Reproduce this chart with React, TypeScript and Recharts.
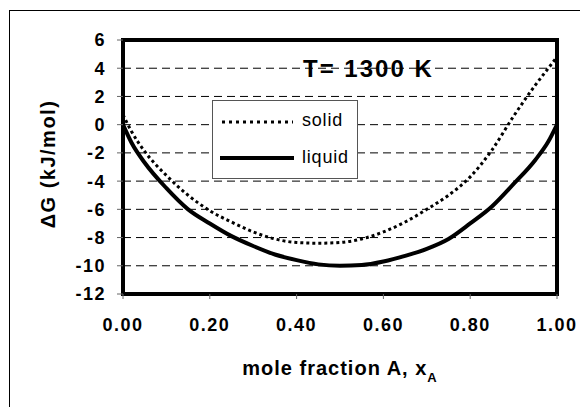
import React from 'react';
import { LineChart, Line, XAxis, YAxis, CartesianGrid, ReferenceArea } from 'recharts';

const moleFraction = [0, 0.02, 0.05, 0.1, 0.15, 0.2, 0.25, 0.3, 0.35, 0.4, 0.45, 0.5, 0.55, 0.6, 0.65, 0.7, 0.75, 0.8, 0.85, 0.9, 0.95, 0.98, 1.0];
const solidDG = [0.7, -0.5, -1.9, -3.6, -5.0, -6.1, -6.9, -7.6, -8.1, -8.35, -8.4, -8.35, -8.1, -7.6, -6.9, -6.0, -5.0, -3.7, -1.8, 0.6, 2.8, 4.0, 4.8];
const liquidDG = [0, -1.3, -2.7, -4.5, -6.0, -7.0, -7.9, -8.6, -9.2, -9.6, -9.9, -10.0, -9.95, -9.7, -9.3, -8.8, -8.1, -7.0, -5.8, -4.2, -2.5, -1.2, 0];
const xTicks = [0, 0.2, 0.4, 0.6, 0.8, 1.0];
const yTicks = [-12, -10, -8, -6, -4, -2, 0, 2, 4, 6];
const seriesNames = ['solid', 'liquid'];
const titleText = 'T= 1300 K';
const xLabelText = 'mole fraction A, x';
const xLabelSub = 'A';
const yLabelText = 'ΔG (kJ/mol)';

const data = moleFraction.map((x, i) => ({ x, solid: solidDG[i], liquid: liquidDG[i] }));

const FONT = '"Liberation Sans", Arial, sans-serif';

const XTick = (props: any) => {
  const { x, y, payload } = props;
  return (
    <text x={x} y={y} dy="0.72em" textAnchor="middle" fontFamily={FONT} fontWeight="bold" fontSize={18} letterSpacing={1.5} fill="#000">
      {Number(payload.value).toFixed(2)}
    </text>
  );
};

const YTick = (props: any) => {
  const { x, y, payload } = props;
  return (
    <text x={x} y={y} dy="0.36em" textAnchor="end" fontFamily={FONT} fontWeight="bold" fontSize={18} letterSpacing={1.5} fill="#000">
      {String(payload.value)}
    </text>
  );
};

export default function App() {
  return (
    <div style={{ position: 'absolute', left: 0, top: 0, width: 580, height: 407, overflow: 'hidden', background: '#fff' }}>
      <div style={{ position: 'absolute', left: 9, top: 10, width: 620, height: 500, border: '1px solid #000' }} />
      <div style={{ position: 'absolute', left: 0, top: 0 }}>
        <LineChart width={580} height={407} data={data} margin={{ top: 40, right: 23, bottom: 83, left: 63 }}>
          <CartesianGrid horizontal={true} vertical={false} stroke="#000" strokeDasharray="8 5" />
          <XAxis
            dataKey="x"
            type="number"
            domain={[0, 1]}
            ticks={xTicks}
            height={30}
            axisLine={false}
            tickLine={{ stroke: '#666' }}
            tickSize={5}
            tickMargin={19}
            tick={<XTick />}
            interval={0}
          />
          <YAxis
            type="number"
            domain={[-12, 6]}
            ticks={yTicks}
            width={60}
            axisLine={false}
            tickLine={{ stroke: '#666' }}
            tickSize={6}
            tickMargin={11}
            tick={<YTick />}
            interval={0}
          />
          <Line dataKey="solid" name={seriesNames[0]} stroke="#000" strokeWidth={3} strokeDasharray="3 3" dot={false} isAnimationActive={false} type="monotone" />
          <Line dataKey="liquid" name={seriesNames[1]} stroke="#000" strokeWidth={4} dot={false} isAnimationActive={false} type="monotone" />
          <ReferenceArea x1={0} x2={1} y1={-12} y2={6} fill="none" fillOpacity={0} stroke="#000" strokeWidth={4} ifOverflow="visible" />
        </LineChart>
      </div>
      <svg width={580} height={407} style={{ position: 'absolute', left: 0, top: 0, pointerEvents: 'none' }}>
        <text x={303} y={77} fontFamily={FONT} fontWeight="bold" fontSize={24} letterSpacing={2} fill="#000">{titleText}</text>
        <rect x={212.5} y={100.5} width={145} height={78} fill="#fff" stroke="#555" strokeWidth={1} />
        <line x1={222} y1={122} x2={293} y2={122} stroke="#000" strokeWidth={3} strokeDasharray="3 4" />
        <text x={302} y={126} fontFamily={FONT} fontSize={18} letterSpacing={0.8} fill="#000">{seriesNames[0]}</text>
        <line x1={220} y1={158} x2={294} y2={158} stroke="#000" strokeWidth={4} />
        <text x={302} y={163} fontFamily={FONT} fontSize={18} letterSpacing={0.8} fill="#000">{seriesNames[1]}</text>
        <text x={340} y={375} textAnchor="middle" fontFamily={FONT} fontWeight="bold" fontSize={20} letterSpacing={1} fill="#000">
          {xLabelText}
          <tspan dy={7} fontSize={13}>{xLabelSub}</tspan>
        </text>
        <text x={0} y={0} transform="translate(55,164) rotate(-90)" textAnchor="middle" fontFamily={FONT} fontWeight="bold" fontSize={20} letterSpacing={1.5} fill="#000">{yLabelText}</text>
      </svg>
    </div>
  );
}
